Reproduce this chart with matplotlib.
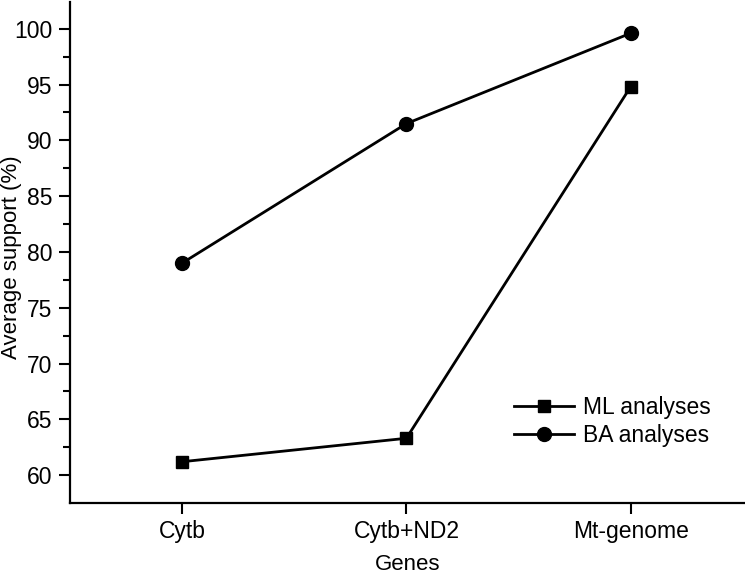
import numpy as np
import matplotlib.pyplot as plt

plt.rcParams['font.family'] = ['Liberation Sans', 'DejaVu Sans']

genes = ['Cytb', 'Cytb+ND2', 'Mt-genome']
ml_support = [61.2, 63.3, 94.8]
ba_support = [79.0, 91.5, 99.6]

fig = plt.figure(figsize=(7.45, 5.74), dpi=100)
ax = fig.add_axes([70 / 745, 71 / 574, 675 / 745, 501 / 574])

x = np.arange(len(genes))
ax.plot(x, ml_support, color='black', lw=2, marker='s', ms=9, label='ML analyses')
ax.plot(x, ba_support, color='black', lw=2, marker='o', ms=10, label='BA analyses')

ax.set_xlim(-0.5, 2.51)
ax.set_ylim(57.5, 102.4)
ax.set_xticks(x)
ax.set_xticklabels(genes)
ax.set_yticks(np.arange(60, 101, 5))
ax.set_yticks(np.arange(62.5, 101, 5), minor=True)

for side in ['top', 'right']:
    ax.spines[side].set_visible(False)
for side in ['left', 'bottom']:
    ax.spines[side].set_linewidth(1.6)

ax.tick_params(axis='both', which='major', direction='out', length=8, width=1.5,
               labelsize=16.5, pad=4.5)
ax.tick_params(axis='y', which='minor', direction='out', length=5, width=1.5)

ax.set_xlabel('Genes', fontsize=16)
ax.set_ylabel('Average support (%)', fontsize=16)
ax.xaxis.set_label_coords(0.5, -0.102)
ax.yaxis.set_label_coords(-0.071, 0.49)

ax.legend(loc='lower right', bbox_to_anchor=(0.98, 0.07), frameon=False, fontsize=16.5,
          handlelength=2.6, labelspacing=0.25, handletextpad=0.4)

fig.savefig('out.png', dpi=100)
